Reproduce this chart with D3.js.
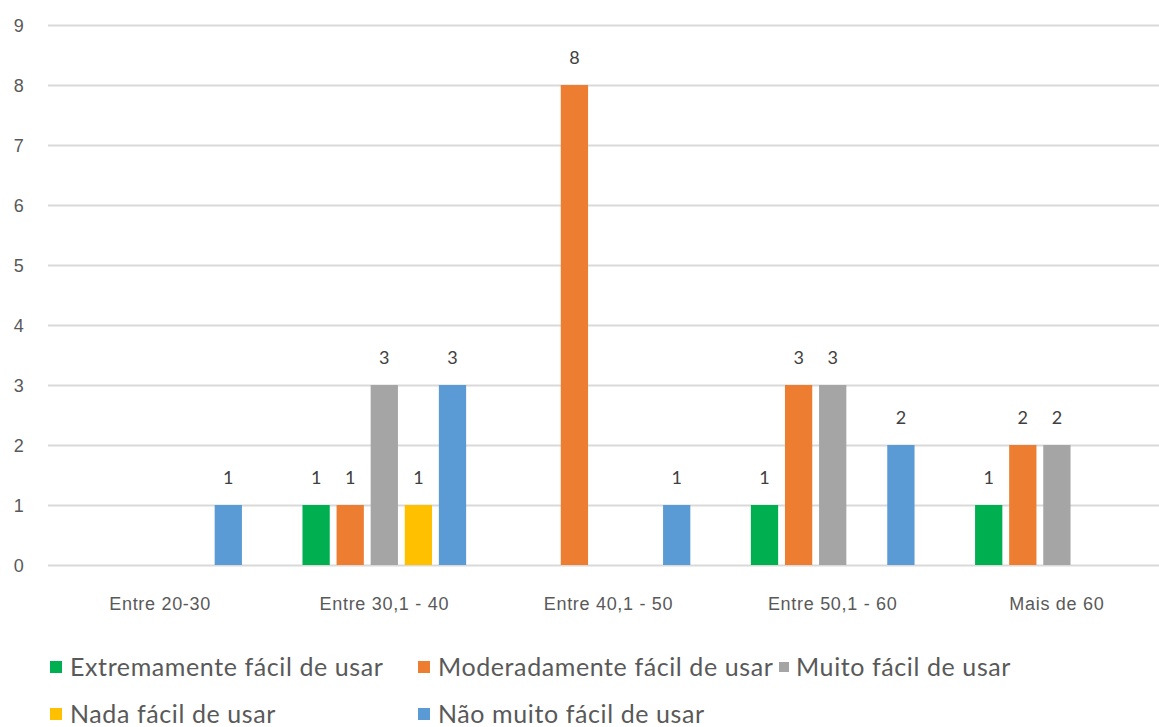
<!DOCTYPE html>
<html lang="pt">
<head>
<meta charset="UTF-8">
<title>Facilidade de uso por faixa etária</title>
<script src="https://d3js.org/d3.v7.min.js"></script>
<style>
body { margin: 0; background: #fff; }
svg { display: block; font-family: Lato, "Open Sans", sans-serif; }
.grid line { stroke: #d9d9d9; stroke-width: 2; }
.grid path { display: none; }
.axis text { fill: #595959; font-size: 18px; letter-spacing: 0.7px; }
.axis path, .axis line { display: none; }
.val { fill: #404040; font-size: 18px; text-anchor: middle; }
.leg text { fill: #595959; font-size: 25px; letter-spacing: 0.6px; }
</style>
</head>
<body>
<script>
var width = 1159, height = 727;

// categorias e séries
var categories = ['Entre 20-30', 'Entre 30,1 - 40', 'Entre 40,1 - 50', 'Entre 50,1 - 60', 'Mais de 60'];
var seriesNames = ['Extremamente fácil de usar', 'Moderadamente fácil de usar', 'Muito fácil de usar', 'Nada fácil de usar', 'Não muito fácil de usar'];
var extremamente = [0, 1, 0, 1, 1];
var moderadamente = [0, 1, 8, 3, 2];
var muito = [0, 3, 0, 3, 2];
var nada = [0, 1, 0, 0, 0];
var naoMuito = [1, 3, 1, 2, 0];
var yTicks = [0, 1, 2, 3, 4, 5, 6, 7, 8, 9];
var colors = ['#00B050', '#ED7D31', '#A5A5A5', '#FFC000', '#5B9BD5'];

var seriesValues = [extremamente, moderadamente, muito, nada, naoMuito];

// a área do gráfico continua um pouco além da borda direita da imagem
var margin = {left: 48, right: -10, top: 25, bottom: 162};

var svg = d3.select('body').append('svg')
    .attr('width', width)
    .attr('height', height);

var x0 = d3.scaleBand()
    .domain(categories)
    .range([margin.left, width - margin.right]);

var gw = x0.bandwidth();
var x1 = d3.scaleBand()
    .domain(seriesNames)
    .range([gw * 0.135, gw * 0.865])
    .paddingInner(0.2);

var y = d3.scaleLinear()
    .domain([0, 9])
    .range([height - margin.bottom, margin.top]);

// linhas de grade
svg.append('g')
    .attr('class', 'grid')
    .attr('transform', 'translate(' + margin.left + ',0)')
    .call(d3.axisLeft(y).tickValues(yTicks).tickSize(-(width - margin.left)).tickFormat(''));

// eixo y
svg.append('g')
    .attr('class', 'axis')
    .attr('transform', 'translate(19,0)')
    .call(d3.axisLeft(y).tickValues(yTicks).tickSize(0).tickPadding(0).tickFormat(d3.format('d')))
    .selectAll('text').attr('dy', '0.35em').attr('text-anchor', 'middle');

// eixo x
svg.append('g')
    .attr('class', 'axis')
    .attr('transform', 'translate(0,' + (height - margin.bottom) + ')')
    .call(d3.axisBottom(x0).tickSize(0).tickPadding(39))
    .selectAll('text').attr('dy', '0.35em');

// barras
var rows = [];
categories.forEach(function(c, i) {
    seriesNames.forEach(function(s, j) {
        rows.push({cat: c, ser: s, v: seriesValues[j][i], color: colors[j]});
    });
});
var nz = rows.filter(function(d) { return d.v > 0; });

svg.selectAll('.bar')
    .data(nz)
    .enter().append('rect')
    .attr('class', 'bar')
    .attr('x', function(d) { return x0(d.cat) + x1(d.ser); })
    .attr('y', function(d) { return y(d.v); })
    .attr('width', x1.bandwidth())
    .attr('height', function(d) { return y(0) - y(d.v); })
    .attr('fill', function(d) { return d.color; });

svg.selectAll('.val')
    .data(nz)
    .enter().append('text')
    .attr('class', 'val')
    .attr('x', function(d) { return x0(d.cat) + x1(d.ser) + x1.bandwidth() / 2; })
    .attr('y', function(d) { return y(d.v) - 27; })
    .attr('dy', '0.35em')
    .text(function(d) { return d.v; });

// legenda
var legX = [50, 418, 779];
var legY = [667, 714];
var leg = svg.selectAll('.leg')
    .data(seriesNames)
    .enter().append('g')
    .attr('class', 'leg')
    .attr('transform', function(d, i) {
        return 'translate(' + legX[i % 3] + ',' + legY[Math.floor(i / 3)] + ')';
    });
leg.append('rect')
    .attr('y', function(d, i) { return i === 2 ? -5 : -6; })
    .attr('width', function(d, i) { return i === 2 ? 10 : 12; })
    .attr('height', function(d, i) { return i === 2 ? 10 : 12; })
    .attr('fill', function(d, i) { return colors[i]; });
leg.append('text')
    .attr('x', function(d, i) { return i === 2 ? 17 : 20; })
    .attr('dy', '0.35em')
    .text(function(d) { return d; });
</script>
</body>
</html>
